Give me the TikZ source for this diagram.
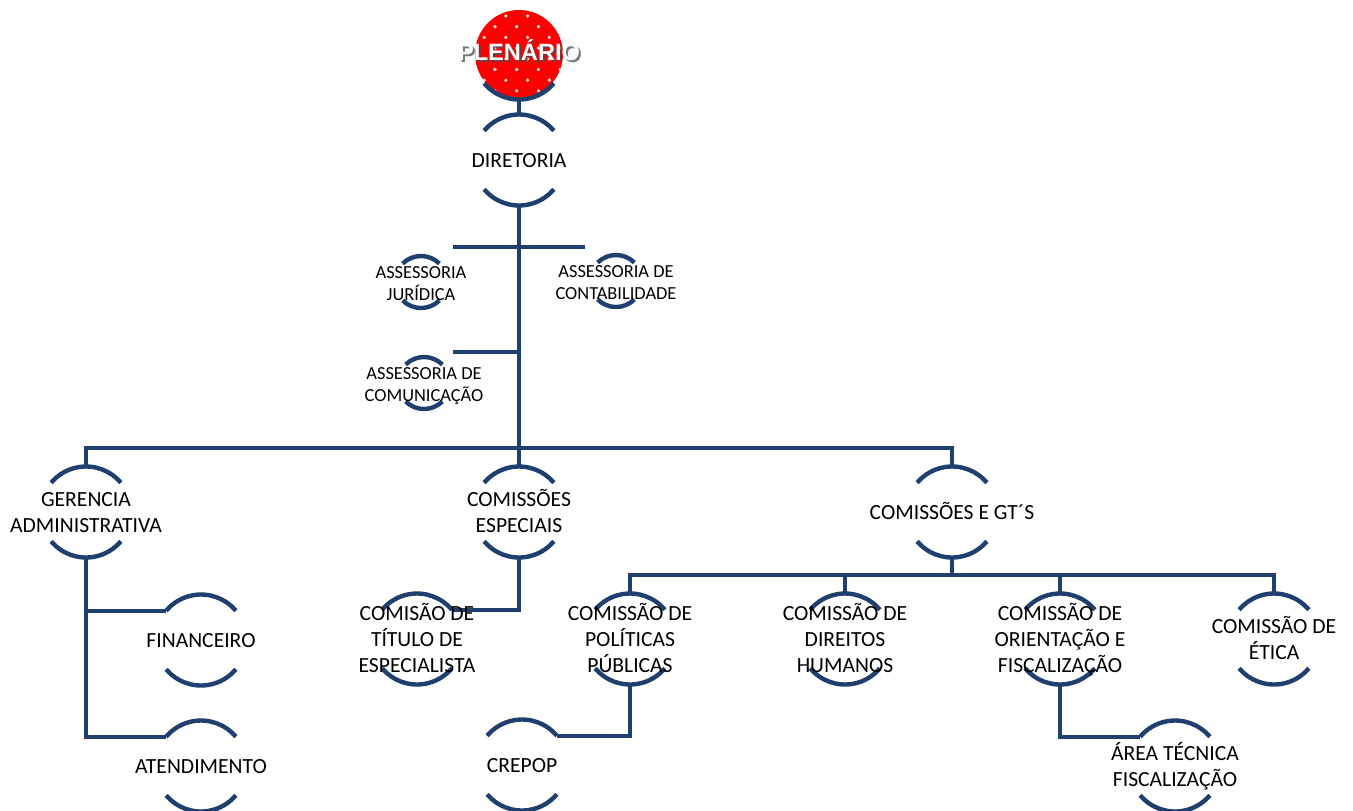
\documentclass[tikz,border=0pt]{standalone}
\usepackage{fontspec}
\setmainfont{Carlito}
\newfontfamily\plenfont{Liberation Sans}
\usetikzlibrary{backgrounds}
\definecolor{linha}{RGB}{31,63,110}
\definecolor{vermelho}{RGB}{250,2,2}
\newcommand{\rotulo}[1]{\makebox[0pt]{\raisebox{0pt}[\dimexpr\height+2.6pt][\depth]{\begin{tabular}{@{}c@{}}#1\end{tabular}}}}
\newcommand{\rotplen}[1]{\makebox[0pt]{\raisebox{0pt}[\height][\dimexpr\depth+4pt]{#1}}}

\begin{document}
\begin{tikzpicture}[x=0.5pt,y=0.5pt, line join=round, line cap=round,
	font=\fontsize{10.8}{13}\selectfont,
	link/.style={draw=linha, line width=2.2pt},
	unit/.style={circle, minimum size=45.5pt, inner sep=0pt, outer sep=0pt},
	small/.style={circle, minimum size=26pt, inner sep=0pt, outer sep=0pt, font=\fontsize{9.2}{11}\selectfont},
	plentxt/.style={font={\plenfont\bfseries\fontsize{11.8}{13}\selectfont}}]
			\def\r{45.5} \def\s{26}
			\useasboundingbox (0,0) rectangle (1353,-810);
			\node[unit, plentxt, text=black!70, opacity=0.75] (plensombra) at (521,-56) {\rotplen{PLENÁRIO}};
			\node[unit, plentxt, text=white] (plen) at (519,-54) {\rotplen{PLENÁRIO}};
			\node[unit] (dir) at (519,-160) {\rotulo{DIRETORIA}};
			\node[small] (aj) at (421,-282) {\rotulo{ASSESSORIA\\JURÍDICA}};
			\node[small] (act) at (616,-281) {\rotulo{ASSESSORIA DE\\CONTABILIDADE}};
			\node[small] (acm) at (424,-383) {\rotulo{ASSESSORIA DE\\COMUNICAÇÃO}};
			\node[unit] (ga) at (86,-512) {\rotulo{GERENCIA\\ADMINISTRATIVA}};
			\node[unit] (ce) at (519,-512) {\rotulo{COMISSÕES\\ESPECIAIS}};
			\node[unit] (cgt) at (952,-512) {\rotulo{COMISSÕES E GT´S}};
			\node[unit] (fin) at (201,-640) {\rotulo{FINANCEIRO}};
			\node[unit] (ate) at (201,-766) {\rotulo{ATENDIMENTO}};
			\node[unit] (tit) at (417,-639) {\rotulo{COMISÃO DE\\TÍTULO DE\\ESPECIALISTA}};
			\node[unit] (cpp) at (630,-639) {\rotulo{COMISSÃO DE\\POLÍTICAS\\PÚBLICAS}};
			\node[unit] (cdh) at (845,-639) {\rotulo{COMISSÃO DE\\DIREITOS\\HUMANOS}};
			\node[unit] (cof) at (1060,-639) {\rotulo{COMISSÃO DE\\ORIENTAÇÃO E\\FISCALIZAÇÃO}};
			\node[unit] (eti) at (1274,-639) {\rotulo{COMISSÃO DE\\ÉTICA}};
			\node[unit] (crp) at (522,-765) {\rotulo{CREPOP}};
			\node[unit] (atf) at (1175,-766) {\rotulo{ÁREA TÉCNICA\\FISCALIZAÇÃO}};
			\coordinate (bar1) at (519,-448);
			\coordinate (bar2) at (952,-575);
			\coordinate (ajt) at (453,-247);
			\coordinate (actt) at (585,-247);
			\coordinate (acmt) at (453,-352);
			\begin{pgfonlayer}{background}
			\fill[vermelho] (plen.center) circle (44);
			\begin{scope}
			\clip (plen.center) circle (44);
			\foreach \i in {0,...,9}
			\foreach \j in {0,...,4}
			\fill[white!90!vermelho] ({473.3+21.7*\j+10.85*mod(\i,2)},{-5.3-10.7*\i}) circle (1.8);
			\end{scope}
			\draw[link] (plen.220) arc (220:320:\r);
			\foreach \n in {dir,ga,ce,cgt,fin,ate,tit,cpp,cdh,cof,eti,crp,atf}
			{\draw[link] (\n.40) arc (40:140:\r); \draw[link] (\n.220) arc (220:320:\r);}
			\foreach \n in {aj,act,acm}
			{\draw[link] (\n.45) arc (45:135:\s); \draw[link] (\n.225) arc (225:315:\s);}
			\draw[link] (plen.south)--(dir.north);
			\draw[link] (dir.south)--(bar1);
			\draw[link] (ajt)--(actt);
			\draw[link] (acmt)--(acmt -| dir.south);
			\draw[link] (ga.north) |- (bar1) -| (cgt.north);
			\draw[link] (bar1)--(ce.north);
			\draw[link] (ga.south) |- (ate.140);
			\draw[link] (ga.south |- fin.140)--(fin.140);
			\draw[link] (ce.south) |- (tit.40);
			\draw[link] (cgt.south)--(bar2);
			\draw[link] (cpp.north) |- (bar2) -| (eti.north);
			\draw[link] (cdh.north)--(cdh.north |- bar2);
			\draw[link] (cof.north)--(cof.north |- bar2);
			\draw[link] (cpp.south) |- (crp.40);
			\draw[link] (cof.south) |- (atf.140);
			\end{pgfonlayer}
		\end{tikzpicture}
\end{document}
